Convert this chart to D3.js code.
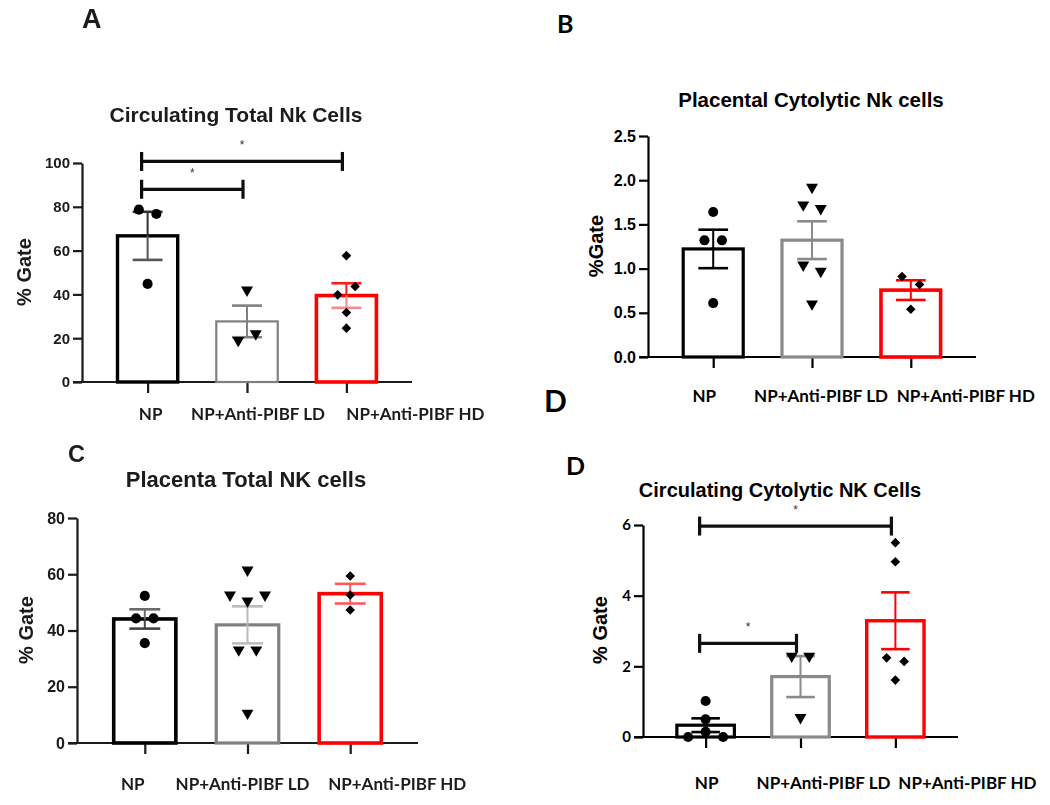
<!DOCTYPE html>
<html>
<head>
<meta charset="utf-8">
<script src="https://cdn.jsdelivr.net/npm/d3@7"></script>
<style>
  body { margin: 0; background: #fff; }
  svg { display: block; }
</style>
</head>
<body>
<svg id="chart" width="1050" height="805"></svg>
<script>
// groups on the x axis
var groups = ['NP', 'NP+Anti-PIBF LD', 'NP+Anti-PIBF HD'];

// A - circulating total NK cells (% gate)
var circTotalNP = [78.7, 76.7, 44.8];
var circTotalLD = [42, 19, 22];
var circTotalHD = [57.7, 39.8, 43.6, 31.7, 24.6];

// B - placental cytolytic NK cells (% gate)
var placCytoNP = [1.64, 1.32, 1.32, 0.61];
var placCytoLD = [1.92, 1.72, 1.68, 1.04, 0.97, 0.60];
var placCytoHD = [0.91, 0.82, 0.54];

// C - placenta total NK cells (% gate)
var placTotalNP = [52.3, 44.3, 44.3, 35.5];
var placTotalLD = [61.5, 52.6, 50.5, 52.6, 33.1, 33.1, 10.6];
var placTotalHD = [59.4, 52.6, 47.3];

// D - circulating cytolytic NK cells (% gate)
var circCytoNP = [1.02, 0.5, 0, 0.15, 0];
var circCytoLD = [2.29, 2.29, 0.55];
var circCytoHD = [5.5, 4.96, 2.24, 2.14, 1.61];

// y tick values
var ticksA = [0, 20, 40, 60, 80, 100];
var ticksB = [0, 0.5, 1.0, 1.5, 2.0, 2.5];
var ticksC = [0, 20, 40, 60, 80];
var ticksD = [0, 2, 4, 6];

// significance brackets: [from group, to group, height]
var sigA = [[0, 1, 88], [0, 2, 100.7]];
var sigD = [[0, 1, 2.65], [0, 2, 5.97]];

var svg = d3.select('#chart');
svg.append('rect').attr('width', 1050).attr('height', 805).attr('fill', '#fff');

// the left hand panels look like a lower resolution raster
svg.append('defs').append('filter').attr('id', 'soft')
  .append('feGaussianBlur').attr('stdDeviation', 0.45);

var ARIAL = '"Liberation Sans", Arial, sans-serif';
var CALIBRI = 'Lato, "Noto Sans", sans-serif';

var shapes = [
  { type: d3.symbolCircle, size: 80, rot: 0 },
  { type: d3.symbolTriangle, size: 62, rot: 180 },
  { type: d3.symbolSquare, size: 46, rot: 45 }
];

// place points sharing a row side by side, like a scatter dot plot
function spread(vals, y, s) {
  var order = vals.map(function(v, i) { return i; })
    .sort(function(a, b) { return vals[b] - vals[a]; });
  var rows = [], cur = null;
  order.forEach(function(i) {
    var py = y(vals[i]);
    if (cur && Math.abs(py - cur.y0) < 10) cur.items.push(i);
    else { cur = { y0: py, items: [i] }; rows.push(cur); }
  });
  var off = vals.map(function() { return 0; });
  rows.forEach(function(r) {
    r.items.sort(function(a, b) { return a - b; });
    var n = r.items.length;
    r.items.forEach(function(i, k) { off[i] = (k - (n - 1) / 2) * s; });
  });
  return off;
}

function drawPanel(p) {
  var g = svg.append('g');
  if (p.soft) g.attr('filter', 'url(#soft)');

  var y = d3.scaleLinear().domain([0, d3.max(p.ticks)]).range([p.bottom, p.top]);
  var x = d3.scalePoint().domain(groups).range([p.left, p.right]).padding(0.66);
  var barW = x.step() * 0.64;
  var capW = barW * 0.47;

  // panel letter and title
  p.letters.forEach(function(l) {
    g.append('text').attr('x', l.x).attr('y', l.y)
      .attr('font-family', l.font).attr('font-weight', 'bold')
      .attr('font-size', l.size).attr('fill', p.ink).text(l.t);
  });
  g.append('text').attr('x', p.titleX).attr('y', p.titleY)
    .attr('text-anchor', 'middle').attr('font-family', ARIAL)
    .attr('font-weight', 'bold').attr('font-size', p.titleSize)
    .attr('fill', p.ink).text(p.title);

  // y axis
  var ya = g.append('g').attr('transform', 'translate(' + p.left + ',0)')
    .call(d3.axisLeft(y).tickValues(p.ticks).tickFormat(d3.format(p.fmt))
      .tickSize(9).tickSizeOuter(0).tickPadding(3));
  ya.select('.domain').attr('stroke', p.ink).attr('stroke-width', 2.2);
  ya.selectAll('.tick line').attr('stroke', p.ink).attr('stroke-width', 2.2);
  ya.selectAll('.tick text').attr('fill', p.ink).attr('font-family', p.tickFont)
    .attr('font-weight', 'bold').attr('font-size', p.tickSize);

  g.append('text')
    .attr('transform', 'translate(' + p.yLabelX + ',' + p.yLabelY + ') rotate(-90)')
    .attr('text-anchor', 'middle').attr('font-family', ARIAL)
    .attr('font-weight', 'bold').attr('font-size', 20)
    .attr('fill', p.ink).text(p.yLabel);

  // x axis: baseline plus ticks under each group
  var xa = g.append('g').attr('transform', 'translate(0,' + p.bottom + ')')
    .call(d3.axisBottom(x).tickSize(11).tickFormat(''));
  xa.select('.domain').remove();
  xa.selectAll('.tick line').attr('stroke', p.ink).attr('stroke-width', 2.2);
  g.append('line')
    .attr('x1', p.left - 9).attr('x2', p.right)
    .attr('y1', p.bottom).attr('y2', p.bottom)
    .attr('stroke', p.ink).attr('stroke-width', 2.2);

  var stats = groups.map(function(name, i) {
    var v = p.series[i];
    return {
      name: name, i: i, vals: v,
      mean: d3.mean(v),
      sem: d3.deviation(v) / Math.sqrt(v.length)
    };
  });

  // open bars
  g.selectAll('rect.bar').data(stats).enter().append('rect')
    .attr('class', 'bar')
    .attr('x', function(d) { return x(d.name) - (barW - p.barStroke[d.i]) / 2; })
    .attr('width', function(d) { return barW - p.barStroke[d.i]; })
    .attr('y', function(d) { return y(d.mean); })
    .attr('height', function(d) { return y(0) - y(d.mean); })
    .attr('fill', 'none')
    .attr('stroke', function(d) { return p.colors[d.i]; })
    .attr('stroke-width', function(d) { return p.barStroke[d.i]; });

  // mean +/- SEM
  stats.forEach(function(d) {
    var cx = x(d.name);
    var hi = y(d.mean + d.sem), lo = y(d.mean - d.sem);
    var c = p.errColors[d.i], cLo = p.errLowColors[d.i];
    g.append('line').attr('x1', cx).attr('x2', cx).attr('y1', hi).attr('y2', y(d.mean))
      .attr('stroke', c).attr('stroke-width', 2);
    g.append('line').attr('x1', cx).attr('x2', cx).attr('y1', y(d.mean)).attr('y2', lo)
      .attr('stroke', cLo).attr('stroke-width', 2);
    g.append('line').attr('x1', cx - capW / 2).attr('x2', cx + capW / 2)
      .attr('y1', hi).attr('y2', hi).attr('stroke', c).attr('stroke-width', 2.6);
    g.append('line').attr('x1', cx - capW / 2).attr('x2', cx + capW / 2)
      .attr('y1', lo).attr('y2', lo).attr('stroke', cLo).attr('stroke-width', 2.6);
  });

  // individual animals
  stats.forEach(function(d) {
    var off = spread(d.vals, y, 17.5);
    var sh = shapes[d.i];
    g.selectAll(null).data(d.vals).enter().append('path')
      .attr('d', d3.symbol().type(sh.type).size(sh.size))
      .attr('transform', function(v, k) {
        return 'translate(' + (x(d.name) + off[k]) + ',' + y(v) + ') rotate(' + sh.rot + ')';
      })
      .attr('fill', '#000');
  });

  // significance brackets
  (p.sig || []).forEach(function(s) {
    var x1 = x(groups[s[0]]) - 6, x2 = x(groups[s[1]]) - 4, yy = y(s[2]);
    g.append('line').attr('x1', x1).attr('x2', x2).attr('y1', yy).attr('y2', yy)
      .attr('stroke', '#111').attr('stroke-width', 3.2);
    [x1, x2].forEach(function(xx) {
      g.append('line').attr('x1', xx).attr('x2', xx).attr('y1', yy - 9.5).attr('y2', yy + 9.5)
        .attr('stroke', '#111').attr('stroke-width', 3.2);
    });
    g.append('text').attr('x', (x1 + x2) / 2).attr('y', yy - 12)
      .attr('text-anchor', 'middle').attr('font-family', ARIAL)
      .attr('font-size', 12).attr('fill', '#333').text('*');
  });

  // group labels
  groups.forEach(function(name, i) {
    g.append('text').attr('x', x(name) + p.labelDx[i]).attr('y', p.labelY)
      .attr('text-anchor', 'middle').attr('font-family', CALIBRI)
      .attr('font-weight', 'bold').attr('font-size', p.labelSize)
      .attr('fill', p.ink).text(name);
  });
}

drawPanel({
  soft: true, ink: '#1a1a1a',
  left: 82, right: 412, top: 163, bottom: 382,
  ticks: ticksA, fmt: 'd', tickFont: ARIAL, tickSize: 15,
  series: [circTotalNP, circTotalLD, circTotalHD],
  colors: ['#000', '#808080', '#ff0000'],
  barStroke: [3.4, 2.2, 3.6],
  errColors: ['#333', '#808080', '#ff1a1a'],
  errLowColors: ['#555', '#808080', '#f58a8a'],
  sig: sigA,
  title: 'Circulating Total Nk Cells', titleX: 236, titleY: 122, titleSize: 21,
  letters: [{ t: 'A', x: 82, y: 28, size: 27, font: ARIAL }],
  yLabel: '% Gate', yLabelX: 31, yLabelY: 272,
  labelDx: [3, 11, 69], labelY: 420, labelSize: 17
});

drawPanel({
  soft: false, ink: '#000',
  left: 648, right: 976, top: 136, bottom: 357,
  ticks: ticksB, fmt: '.1f', tickFont: ARIAL, tickSize: 16,
  series: [placCytoNP, placCytoLD, placCytoHD],
  colors: ['#000', '#8a8a8a', '#ff0000'],
  barStroke: [3.2, 3.2, 3.6],
  errColors: ['#000', '#8a8a8a', '#ff0000'],
  errLowColors: ['#000', '#8a8a8a', '#ff0000'],
  title: 'Placental Cytolytic Nk cells', titleX: 811, titleY: 107, titleSize: 20.5,
  letters: [{ t: 'B', x: 557, y: 33, size: 25, font: CALIBRI }],
  yLabel: '%Gate', yLabelX: 603, yLabelY: 246,
  labelDx: [-9, 9, 55], labelY: 402, labelSize: 17
});

drawPanel({
  soft: true, ink: '#1a1a1a',
  left: 77, right: 418, top: 518, bottom: 743,
  ticks: ticksC, fmt: 'd', tickFont: ARIAL, tickSize: 16,
  series: [placTotalNP, placTotalLD, placTotalHD],
  colors: ['#000', '#808080', '#ff0000'],
  barStroke: [3.6, 3.2, 3.6],
  errColors: ['#6a6a6a', '#bbbbbb', '#ff5a5a'],
  errLowColors: ['#444', '#bbbbbb', '#ff5a5a'],
  title: 'Placenta Total NK cells', titleX: 246, titleY: 487, titleSize: 22,
  letters: [{ t: 'C', x: 68, y: 462, size: 23.5, font: ARIAL }],
  yLabel: '% Gate', yLabelX: 33, yLabelY: 630,
  labelDx: [-12, -5, 47], labelY: 790, labelSize: 17
});

drawPanel({
  soft: false, ink: '#000',
  left: 643, right: 958, top: 525, bottom: 737,
  ticks: ticksD, fmt: 'd', tickFont: CALIBRI, tickSize: 15,
  series: [circCytoNP, circCytoLD, circCytoHD],
  colors: ['#000', '#8a8a8a', '#ff0000'],
  barStroke: [3.2, 3.2, 3.4],
  errColors: ['#000', '#8a8a8a', '#ff0000'],
  errLowColors: ['#000', '#8a8a8a', '#ff0000'],
  sig: sigD,
  title: 'Circulating Cytolytic NK Cells', titleX: 780, titleY: 497, titleSize: 20,
  letters: [
    { t: 'D', x: 544, y: 412, size: 30, font: CALIBRI },
    { t: 'D', x: 566, y: 475, size: 25, font: CALIBRI }
  ],
  yLabel: '% Gate', yLabelX: 607, yLabelY: 630,
  labelDx: [1, 23, 72], labelY: 789, labelSize: 17
});
</script>
</body>
</html>
